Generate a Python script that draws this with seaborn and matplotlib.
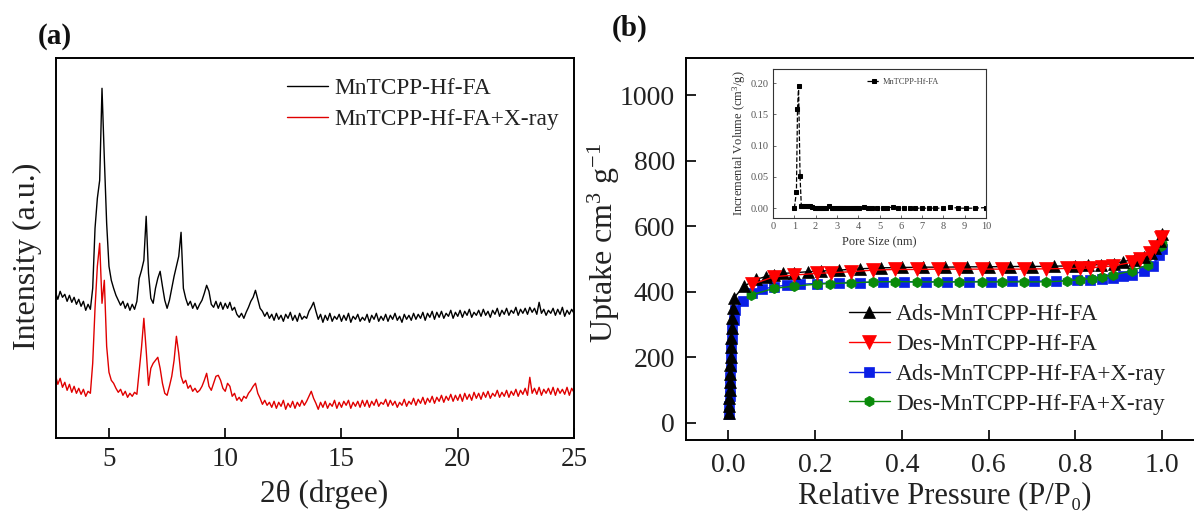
import numpy as np
import pandas as pd
import matplotlib
matplotlib.use("Agg")
import matplotlib.pyplot as plt
import seaborn as sns

# ---------------- data: panel (a) XRD ----------------
two_theta = np.round(np.arange(2.7, 25.05, 0.1), 1)  # measured angles, 0.1 deg step
xrd_pristine = [
    146, 139, 147, 141, 144, 137, 143, 136, 141, 134, 139, 132, 137, 128, 134, 129,
    150, 210, 240, 258, 350, 280, 215, 172, 158, 150, 143, 138, 133, 137, 130, 135, 128,
    134, 129, 137, 160, 168, 178, 222, 165, 140, 135,
    150, 160, 167, 152, 138, 130, 138, 150, 162, 172,
    182, 206, 150, 140, 133, 137, 130, 135, 129, 134,
    138, 145, 153, 147, 134, 131, 137, 130, 136, 129,
    135, 130, 136, 128, 131, 124, 121, 125, 120, 126,
    131, 137, 141, 148, 139, 130,
    127, 122, 126, 120,
    124, 118, 125, 119, 123, 117, 124, 120, 126, 118,
    123, 117, 125, 119, 122, 120, 127, 131, 136, 127,
    119, 124, 116, 123, 118, 125, 117, 122, 119, 124,
    117, 123, 118, 125, 116, 122, 119, 124, 117, 121,
    118, 124, 116, 123, 119, 125, 117, 122, 118, 124,
    117, 123, 119, 125, 118, 122, 116, 124, 119, 123,
    118, 125, 119, 124, 120, 126, 118, 125, 121, 127,
    119, 126, 121, 127, 120, 125, 122, 128, 120, 126,
    122, 128, 121, 127, 123, 129, 121, 126, 123, 128,
    122, 129, 123, 127, 121, 128, 124, 130, 122, 128,
    124, 130, 123, 128, 125, 131, 123, 129, 125, 130,
    124, 131, 126, 130, 124, 136, 125, 129, 123, 128,
    125, 130, 123, 129, 124, 131, 122, 128, 124, 129,
    125,
]
xrd_xray = [
    63, 54, 60, 51, 56, 48, 54, 46, 52, 45, 50, 44, 49, 42, 47, 45,
    75, 130, 172, 195, 135, 158, 92, 66, 58, 55, 50, 46, 49, 43, 47, 41, 45,
    42, 46, 44, 68, 91, 120, 88, 53, 70, 75,
    78, 81, 70, 55, 45, 43, 52, 62, 78, 102,
    85, 62, 55, 58, 50, 53, 47, 50, 46, 48,
    52, 58, 65, 52, 48, 55, 62, 63, 58, 50,
    47, 55, 52, 42, 45, 38, 41, 37, 42, 40,
    45, 48, 52, 55, 45, 40,
    34, 38, 33, 36,
    31, 37, 30, 36, 32, 38, 29, 35, 31, 37,
    30, 36, 32, 38, 33, 37, 42, 47, 40, 35,
    29, 36, 31, 37, 30, 35, 32, 38, 30, 36,
    31, 37, 33, 38, 30, 36, 32, 37, 31, 38,
    32, 38, 31, 37, 33, 39, 32, 36, 34, 39,
    32, 38, 33, 37, 31, 36, 33, 39, 32, 37,
    34, 40, 33, 39, 35, 41, 34, 40, 36, 42,
    35, 41, 37, 43, 36, 42, 38, 44, 37, 43,
    38, 44, 37, 45, 39, 44, 38, 46, 40, 45,
    39, 46, 41, 47, 40, 45, 42, 48, 41, 46,
    42, 48, 41, 47, 43, 49, 42, 48, 44, 50,
    43, 61, 45, 50, 44, 51, 43, 49, 45, 50,
    44, 51, 43, 50, 45, 49, 44, 51, 43, 50,
    46,
]
xrd_labels = ["MnTCPP-Hf-FA", "MnTCPP-Hf-FA+X-ray"]
xrd_ticks = [5, 10, 15, 20, 25]

# ---------------- data: panel (b) N2 isotherms ----------------
ads_p = [0.001, 0.002, 0.002, 0.003, 0.003, 0.004, 0.004, 0.005, 0.005, 0.006, 0.007, 0.008,
         0.010, 0.012, 0.035, 0.064, 0.086, 0.104, 0.126, 0.152, 0.183, 0.214, 0.254, 0.303,
         0.353, 0.40, 0.45, 0.50, 0.55, 0.60, 0.65, 0.70, 0.75, 0.80, 0.83, 0.86, 0.89, 0.91,
         0.935, 0.958, 0.975, 0.985, 0.995, 1.0]
ads_v = [30, 50, 75, 100, 125, 150, 175, 200, 230, 260, 290, 320,
         350, 380, 416, 438, 446, 451, 456, 458, 461, 463, 466, 470,
         473, 474, 475, 475, 476, 476, 477, 477, 478, 479, 481, 483, 486, 492,
         498, 507, 518, 532, 556, 575]
des_p = [1.0, 0.998, 0.985, 0.972, 0.95, 0.932, 0.888, 0.861, 0.834, 0.812, 0.781, 0.733,
         0.682, 0.632, 0.584, 0.533, 0.484, 0.434, 0.385, 0.334, 0.283, 0.236, 0.205, 0.152,
         0.106, 0.055]
des_v = [568, 563, 537, 517, 500, 490, 479, 476, 473, 471, 471, 470,
         469, 469, 469, 469, 469, 468, 468, 466, 461, 458, 456, 451,
         446, 423]
adsx_p = [0.001, 0.002, 0.003, 0.003, 0.004, 0.005, 0.005, 0.006, 0.007, 0.009, 0.012, 0.016,
          0.033, 0.055, 0.077, 0.104, 0.135, 0.166, 0.205, 0.254, 0.303, 0.356, 0.405, 0.455,
          0.505, 0.555, 0.605, 0.655, 0.705, 0.755, 0.805, 0.835, 0.861, 0.888, 0.91, 0.932,
          0.958, 0.98, 0.994, 1.0]
adsx_v = [25, 50, 80, 110, 140, 170, 200, 230, 260, 290, 315, 343,
          371, 397, 407, 415, 420, 423, 425, 428, 428, 430, 430, 430,
          430, 431, 431, 432, 432, 433, 435, 437, 440, 443, 447, 452,
          464, 480, 511, 531]
desx_p = [1.0, 0.998, 0.967, 0.932, 0.888, 0.861, 0.839, 0.812, 0.781, 0.733, 0.682, 0.632,
          0.584, 0.533, 0.484, 0.434, 0.384, 0.334, 0.283, 0.234, 0.204, 0.152, 0.104, 0.053]
desx_v = [545, 541, 482, 464, 451, 445, 440, 437, 433, 430, 430, 430,
          430, 430, 430, 430, 431, 430, 427, 425, 423, 417, 410, 390]
iso_labels = ["Ads-MnTCPP-Hf-FA", "Des-MnTCPP-Hf-FA",
              "Ads-MnTCPP-Hf-FA+X-ray", "Des-MnTCPP-Hf-FA+X-ray"]
iso_xticks = [0.0, 0.2, 0.4, 0.6, 0.8, 1.0]
iso_yticks = [0, 200, 400, 600, 800, 1000]

# ---------------- data: inset pore size distribution ----------------
pore_size = [1.0, 1.1, 1.15, 1.2, 1.27, 1.33, 1.43, 1.52, 1.62, 1.72, 1.82, 1.95, 2.05, 2.15,
             2.25, 2.35, 2.5, 2.64, 2.75, 2.88, 3.0, 3.1, 3.2, 3.3, 3.42, 3.6, 3.75, 3.85,
             3.95, 4.05, 4.29, 4.45, 4.65, 4.88, 5.15, 5.35, 5.62, 5.86, 6.13, 6.42, 6.68,
             7.0, 7.31, 7.62, 7.98, 8.33, 8.67, 9.06, 9.47, 10.0]
pore_vol = [0.0, 0.026, 0.158, 0.195, 0.051, 0.003, 0.004, 0.004, 0.004, 0.003, 0.002, 0.0,
            0.0, 0.0, 0.0, 0.0, 0.001, 0.003, 0.001, 0.0, 0.0, 0.0, 0.0, 0.0, 0.0, 0.0, 0.0,
            0.0, 0.0, 0.0, 0.002, 0.0, 0.0, 0.0, 0.0, 0.0, 0.002, 0.0, 0.0, 0.001, 0.0,
            0.0, 0.0, 0.0, 0.0, 0.002, 0.0, 0.0, 0.0, 0.001]
inset_label = "MnTCPP-Hf-FA"

# ---------------- style ----------------
sns.set_theme(style="white")
plt.rcParams["font.family"] = ["Liberation Serif", "DejaVu Serif"]
plt.rcParams["mathtext.fontset"] = "custom"
plt.rcParams["mathtext.rm"] = "Liberation Serif"
plt.rcParams["mathtext.it"] = "Liberation Serif:italic"
plt.rcParams["mathtext.default"] = "regular"
TXT = "#222222"

W, H = 1194, 513
fig = plt.figure(figsize=(W / 100, H / 100), dpi=100)


def fr(l, t, r, b):
    return [l / W, 1 - b / H, (r - l) / W, (b - t) / H]


# ---------------- panel (a) ----------------
axA = fig.add_axes(fr(55.5, 57.7, 574, 438.3))
dfx = pd.DataFrame({"x": two_theta, "a": xrd_pristine, "b": xrd_xray})
sns.lineplot(data=dfx, x="x", y="a", ax=axA, color="black", lw=1.0,
             estimator=None, sort=False, label=xrd_labels[0])
sns.lineplot(data=dfx, x="x", y="b", ax=axA, color="#e00000", lw=1.0,
             estimator=None, sort=False, label=xrd_labels[1])
axA.set_xlim(2.7, 25)
axA.set_ylim(0, 380.6)
axA.set_xticks(xrd_ticks)
axA.set_yticks([])
axA.tick_params(axis="x", direction="in", length=7, width=1.4, pad=6.5,
                labelsize=19.5, colors=TXT, bottom=True)
for s in axA.spines.values():
    s.set_linewidth(1.4)
    s.set_color("black")
axA.set_xlabel("2θ (drgee)", fontsize=22.5, color=TXT)
axA.set_ylabel("Intensity (a.u.)", fontsize=23, color=TXT)
axA.xaxis.set_label_coords((324 - 55.5) / 518.5, (438.3 - 494) / 380.6)
axA.xaxis.label.set_va("center")
axA.yaxis.set_label_coords((27 - 55.5) / 518.5, (438.3 - 256) / 380.6)
axA.yaxis.label.set_va("center")
legA = axA.legend(loc="upper left", bbox_to_anchor=(287 / W, 1 - 78 / H),
                  bbox_transform=fig.transFigure, frameon=False, fontsize=16.8,
                  handlelength=1.75, handletextpad=0.3, borderpad=0, borderaxespad=0,
                  labelspacing=0.42)
for t in legA.get_texts():
    t.set_color(TXT)

# ---------------- panel (b) ----------------
axB = fig.add_axes(fr(686, 58.3, 1205.2, 440))
series = {
    iso_labels[2]: (adsx_p, adsx_v, "#0a1ee6", "s", 6.5),
    iso_labels[3]: (desx_p, desx_v, "#0a8a0a", "h", 7.5),
    iso_labels[0]: (ads_p, ads_v, "black", "^", 8.5),
    iso_labels[1]: (des_p, des_v, "#ff0000", "v", 9.5),
}
for lab, (px, vy, col, mk, ms) in series.items():
    d = pd.DataFrame({"p": px, "v": vy})
    sns.lineplot(data=d, x="p", y="v", ax=axB, color=col, lw=1.0, marker=mk,
                 markersize=ms, markeredgecolor=col, markerfacecolor=col,
                 markeredgewidth=0.5, estimator=None, sort=False, label=lab)
axB.set_xlim(-0.098, 1.1)
axB.set_ylim(-53, 1113)
axB.set_xticks(iso_xticks)
axB.set_xticklabels([f"{v:.1f}" for v in iso_xticks])
axB.set_yticks(iso_yticks)
axB.tick_params(axis="both", direction="in", length=7, width=1.4,
                labelsize=20, colors=TXT, left=True, bottom=True)
axB.tick_params(axis="x", pad=9)
axB.tick_params(axis="y", pad=8)
for s in axB.spines.values():
    s.set_linewidth(1.4)
    s.set_color("black")
axB.spines["right"].set_visible(False)
axB.set_xlabel("Relative Pressure (P/P\u2080)", fontsize=22, color=TXT)
axB.set_ylabel("Uptake cm$^3$ g$^{-1}$", fontsize=23, color=TXT)
axB.xaxis.set_label_coords((945 - 686) / 519.2, (440 - 496) / 381.7)
axB.xaxis.label.set_va("center")
axB.yaxis.set_label_coords((603.5 - 686) / 519.2, (440 - 242.5) / 381.7)
axB.yaxis.label.set_va("center")
hmap = dict(zip(*axB.get_legend_handles_labels()[::-1]))
legB = axB.legend([hmap[l] for l in iso_labels], iso_labels,
                  loc="upper left", bbox_to_anchor=(849 / W, 1 - 304 / H),
                  bbox_transform=fig.transFigure, frameon=False, fontsize=16.8,
                  handlelength=1.75, handletextpad=0.27, borderpad=0, borderaxespad=0,
                  labelspacing=0.36)
for t in legB.get_texts():
    t.set_color(TXT)

# ---------------- inset ----------------
axI = fig.add_axes(fr(773, 69, 986, 218))
dI = pd.DataFrame({"s": pore_size, "v": pore_vol})
sns.lineplot(data=dI, x="s", y="v", ax=axI, color="black", lw=0.9, ls="--",
             marker="s", markersize=2.6, markeredgecolor="black",
             estimator=None, sort=False, label=inset_label)
axI.set_xlim(0, 10)
axI.set_ylim(-0.0157, 0.2226)
axI.set_xticks(range(0, 11))
axI.set_yticks([0.0, 0.05, 0.10, 0.15, 0.20])
axI.set_yticklabels(["0.00", "0.05", "0.10", "0.15", "0.20"])
axI.tick_params(axis="both", direction="in", length=2, width=0.6,
                labelsize=7.5, colors="#555555", left=True, bottom=True, pad=3)
for s in axI.spines.values():
    s.set_linewidth(0.8)
    s.set_color("#333333")
axI.set_xlabel("Pore Size (nm)", fontsize=9, color="#333333", labelpad=4)
axI.set_ylabel("Incremental Volume (cm$^3$/g)", fontsize=9, color="#333333", labelpad=2)
legI = axI.legend(loc="upper right", bbox_to_anchor=(0.80, 0.97), frameon=False,
                  fontsize=6, handlelength=1.6, handletextpad=0.3, borderpad=0)
for t in legI.get_texts():
    t.set_color("#444444")

# ---------------- panel letters ----------------
fig.text(55 / W, 1 - 36 / H, "(a)", fontsize=21, fontweight="bold",
         ha="center", va="center", color="#111111")
fig.text(630 / W, 1 - 28 / H, "(b)", fontsize=21, fontweight="bold",
         ha="center", va="center", color="#111111")

fig.savefig("out.png", dpi=100)
